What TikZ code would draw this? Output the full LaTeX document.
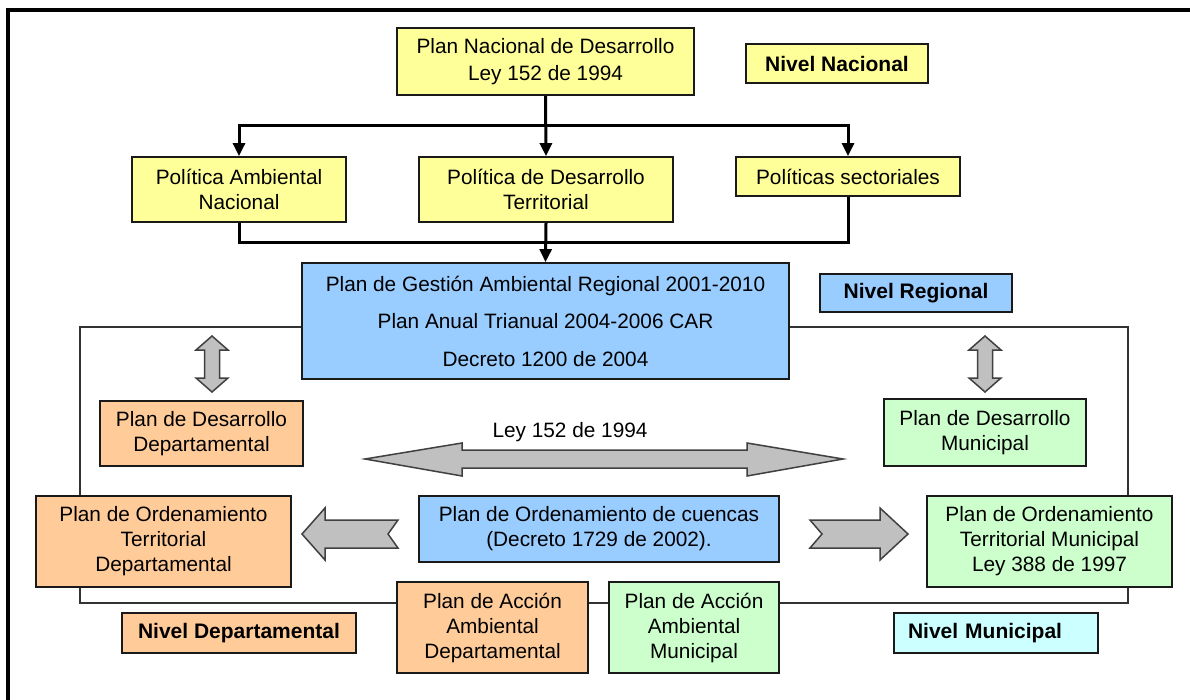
\documentclass[tikz,border=0pt]{standalone}
\usepackage{fontspec}
\setmainfont{Liberation Sans}
\usetikzlibrary{arrows.meta}
\definecolor{cyel}{HTML}{FFFF99}
\definecolor{cblue}{HTML}{99CCFF}
\definecolor{corange}{HTML}{FFCC99}
\definecolor{cgreen}{HTML}{CCFFCC}
\definecolor{ccyan}{HTML}{CCFFFF}
\definecolor{cgray}{HTML}{C0C0C0}
\definecolor{cline}{HTML}{1A1A1A}
\begin{document}
\begin{tikzpicture}[x=1pt,y=-1pt,
  box/.style={draw=cline, line width=1.8pt, inner sep=0pt, align=center, font=\fontsize{20.8}{25}\selectfont},
  lvl/.style={box, font=\fontsize{21}{25}\selectfont\bfseries},
  conn/.style={line width=3pt, black},
  arr/.style={conn, -{Triangle[length=13pt,width=12pt]}},
  blk/.style={fill=cgray, draw=black!75, line width=1.5pt, line join=miter},
  frame/.style={draw=black!80, line width=1.6pt}]
\useasboundingbox (0,0) rectangle (1190,700);
\fill[white] (0,0) rectangle (1190,700);
% outer border (top and left)
\draw[line width=4pt] (1190,10) -- (8,10) -- (8,700);
% inner frame
\draw[frame] (80,327) rectangle (1128,603);

% national level
\node[box, fill=cyel, minimum width=297pt, minimum height=67pt] (top) at (545.5,61.5) {Plan Nacional de Desarrollo\\[2pt]Ley 152 de 1994};
\node[lvl, fill=cyel, minimum width=182pt, minimum height=39pt] (nnac) at (837,63.5) {Nivel Nacional};
\node[box, fill=cyel, minimum width=214pt, minimum height=65pt] (pa) at (239,189.5) {Política Ambiental\\Nacional};
\node[box, fill=cyel, minimum width=254pt, minimum height=65pt] (pd) at (546,189.5) {Política de Desarrollo\\Territorial};
\node[box, fill=cyel, minimum width=224pt, minimum height=39pt] (ps) at (848,176.5) {Políticas sectoriales};

% regional level
\node[box, fill=cblue, minimum width=487pt, minimum height=116pt, font=\fontsize{20.8}{37.5}\selectfont] (reg) at (545.5,321) {Plan de Gestión Ambiental Regional 2001-2010\\Plan Anual Trianual 2004-2006 CAR\\Decreto 1200 de 2004};
\node[lvl, fill=cblue, minimum width=192pt, minimum height=38pt] (nreg) at (916,293) {Nivel Regional};

% connectors
\coordinate (j1) at (546,126);
\coordinate (j2) at (546,243);
\draw[arr] (j1) -| (pa.north);
\draw[arr] (j1) -| (ps.north);
\draw[arr] (top.south) -- (pd.north);
\draw[conn] (pa.south) |- (j2) -| (ps.south);
\draw[arr] (pd.south) -- (reg.north);

% departmental / municipal
\node[box, fill=corange, minimum width=203pt, minimum height=65pt] (pdd) at (201.5,433.5) {Plan de Desarrollo\\Departamental};
\node[box, fill=cgreen, minimum width=202pt, minimum height=67pt] (pdm) at (985,432.5) {Plan de Desarrollo\\Municipal};
\node[font=\fontsize{20.8}{25}\selectfont, inner sep=0pt] (ley) at (570,432) {Ley 152 de 1994};
\node[box, fill=corange, minimum width=255pt, minimum height=91pt] (potd) at (163.5,541.5) {Plan de Ordenamiento\\Territorial\\Departamental};
\node[box, fill=cblue, minimum width=360pt, minimum height=66pt] (cue) at (599,529) {Plan de Ordenamiento de cuencas\\(Decreto 1729 de 2002).};
\node[box, fill=cgreen, minimum width=245pt, minimum height=91pt] (potm) at (1049.5,541.5) {Plan de Ordenamiento\\Territorial Municipal\\Ley 388 de 1997};
\node[box, fill=corange, minimum width=191pt, minimum height=91pt] (paad) at (492.5,627.5) {Plan de Acción\\Ambiental\\Departamental};
\node[box, fill=cgreen, minimum width=170pt, minimum height=91pt] (paam) at (694,627.5) {Plan de Acción\\Ambiental\\Municipal};
\node[lvl, fill=corange, minimum width=234pt, minimum height=40pt] (ndep) at (239,633) {Nivel Departamental};
\node[lvl, fill=ccyan, minimum width=204pt, minimum height=40pt, text width=176pt, align=left] (nmun) at (996,633) {Nivel Municipal};

% block arrows
\draw[blk] (212,336) -- (228,350) -- (219.5,350) -- (219.5,378) -- (228,378) -- (212,392)
  -- (196,378) -- (204.5,378) -- (204.5,350) -- (196,350) -- cycle;
\draw[blk] (985,336) -- (1001,350) -- (992.5,350) -- (992.5,378) -- (1001,378) -- (985,392)
  -- (969,378) -- (977.5,378) -- (977.5,350) -- (969,350) -- cycle;
\draw[blk] (365,459) -- (462,443) -- (462,450) -- (747,450) -- (747,443) -- (843,459)
  -- (747,476) -- (747,468) -- (462,468) -- (462,476) -- cycle;
\draw[blk] (302,534) -- (325,508) -- (325,520) -- (398,520) -- (388,534) -- (398,548)
  -- (325,548) -- (325,560) -- cycle;
\draw[blk] (908,534) -- (880,508) -- (880,520) -- (810,520) -- (822,534) -- (810,548)
  -- (880,548) -- (880,560) -- cycle;
\end{tikzpicture}
\end{document}
